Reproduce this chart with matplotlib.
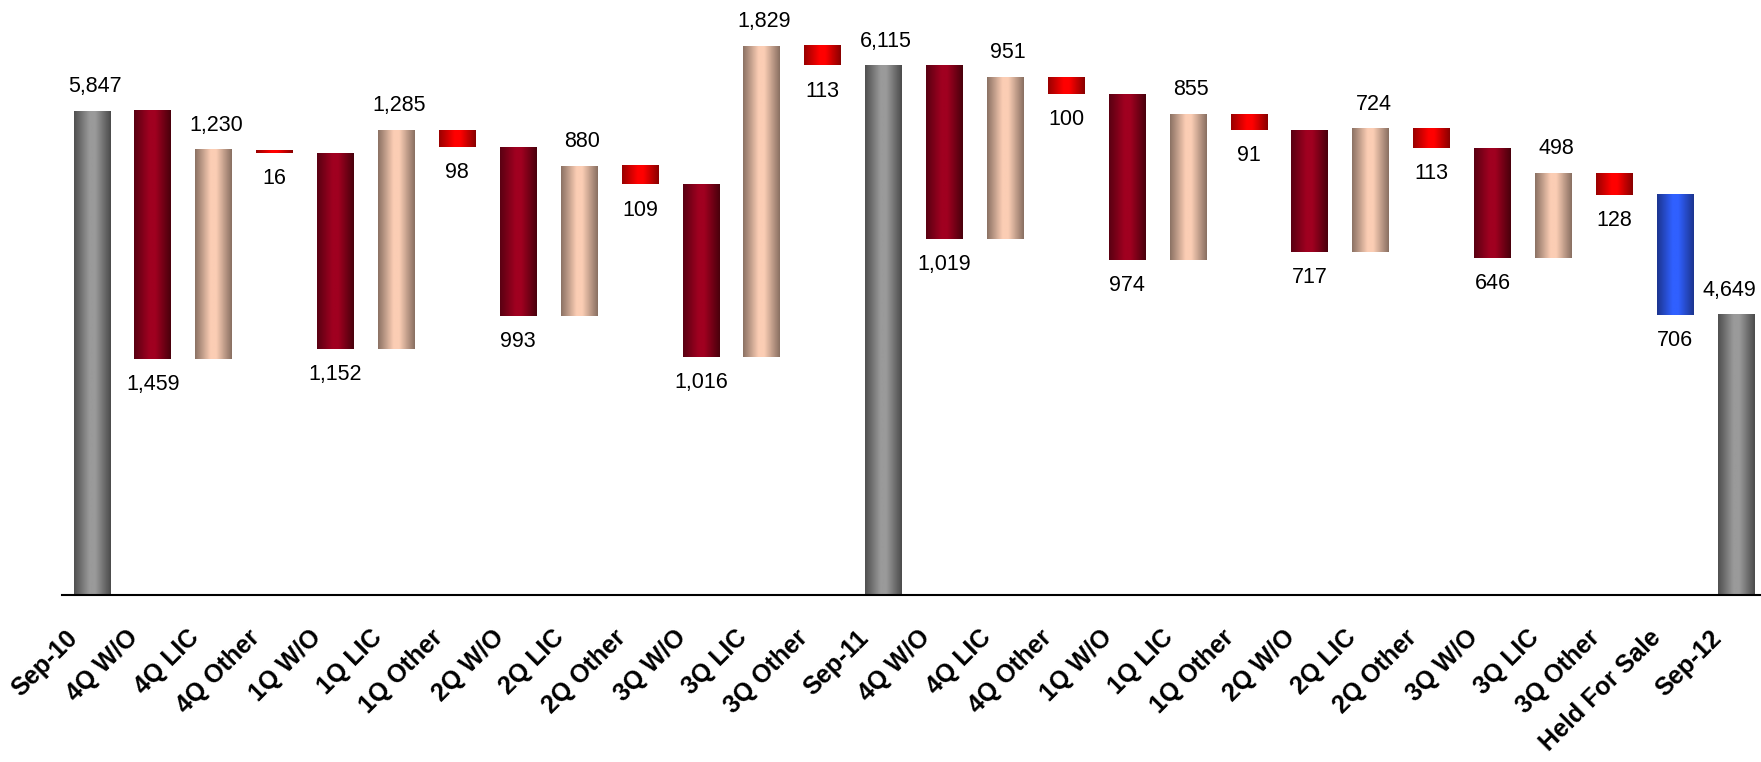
import numpy as np
import matplotlib
matplotlib.use("Agg")
import matplotlib.pyplot as plt
import matplotlib.transforms as mtransforms
from matplotlib.colors import LinearSegmentedColormap

plt.rcParams.update({
    "font.family": ["Liberation Sans", "DejaVu Sans"],
    "font.size": 15.5,
})

# data
labels = ["Sep-10", "4Q W/O", "4Q LIC", "4Q Other", "1Q W/O", "1Q LIC", "1Q Other",
          "2Q W/O", "2Q LIC", "2Q Other", "3Q W/O", "3Q LIC", "3Q Other", "Sep-11",
          "4Q W/O", "4Q LIC", "4Q Other", "1Q W/O", "1Q LIC", "1Q Other",
          "2Q W/O", "2Q LIC", "2Q Other", "3Q W/O", "3Q LIC", "3Q Other",
          "Held For Sale", "Sep-12"]
values = [5847, -1459, 1230, -16, -1152, 1285, -98, -993, 880, -109, -1016, 1829, -113, 6115,
          -1019, 951, -100, -974, 855, -91, -717, 724, -113, -646, 498, -128, -706, 4649]
kinds = ["total", "wo", "lic", "other", "wo", "lic", "other", "wo", "lic", "other", "wo", "lic", "other",
         "total", "wo", "lic", "other", "wo", "lic", "other", "wo", "lic", "other", "wo", "lic", "other",
         "hfs", "total"]

Y_MIN, Y_MAX = 3000, 6500

# edge -> centre -> edge shading for the cylinder look
shades = {
    "total": ["#505050", "#9a9a9a", "#9a9a9a", "#4c4c4c"],
    "wo": ["#5a0012", "#a00020", "#a00020", "#4a000c"],
    "lic": ["#8c7264", "#fbcdb4", "#fbcdb4", "#8a7062"],
    "other": ["#9a0000", "#ff0000", "#ff0000", "#8a0000"],
    "hfs": ["#1c3590", "#3060ff", "#3060ff", "#1c3590"],
}
stops = [0.0, 0.42, 0.58, 1.0]

# waterfall bottoms/heights (totals start at the axis floor)
bottoms, heights = [], []
level = 0
for v, k in zip(values, kinds):
    if k == "total":
        bottoms.append(Y_MIN)
        heights.append(v - Y_MIN)
        level = v
    else:
        new = level + v
        bottoms.append(min(level, new))
        heights.append(abs(v))
        level = new

fig = plt.figure(figsize=(17.61, 7.62), dpi=100)
ax = fig.add_axes([62 / 1761, 167 / 762, 1 - 62 / 1761, 1 - 167 / 762])

x = np.arange(len(labels))
w = 0.6
bars = ax.bar(x, heights, bottom=bottoms, width=w, color=[shades[k][1] for k in kinds],
              linewidth=0, zorder=2)

grad = np.linspace(0, 1, 64).reshape(1, -1)
for patch, k in zip(bars, kinds):
    cmap = LinearSegmentedColormap.from_list(k, list(zip(stops, shades[k])))
    x0, y0 = patch.get_x(), patch.get_y()
    ax.imshow(grad, cmap=cmap, aspect="auto", interpolation="bilinear",
              extent=(x0, x0 + patch.get_width(), y0, y0 + patch.get_height()), zorder=3)

# value labels
for i, (v, k) in enumerate(zip(values, kinds)):
    txt = f"{abs(v):,}"
    top = bottoms[i] + heights[i]
    if i == len(values) - 1:
        # last label is pushed left to stay inside the chart
        ax.annotate(txt, (x[i] + w / 2, top), xytext=(1.5, 13.5), textcoords="offset points",
                    ha="right", va="baseline")
    elif k == "total" or v > 0:
        ax.annotate(txt, (x[i], top), xytext=(2, 13.5), textcoords="offset points",
                    ha="center", va="baseline")
    else:
        ax.annotate(txt, (x[i], bottoms[i]), xytext=(0, -11), textcoords="offset points",
                    ha="center", va="top")

ax.set_xlim(-0.49, 27.41)
ax.set_ylim(Y_MIN, Y_MAX)
ax.set_xticks(x)
ax.set_xticklabels(labels, rotation=45, ha="right", fontsize=18, fontweight="bold")
ax.tick_params(axis="x", length=0, pad=22)
shift = mtransforms.ScaledTranslation(-7 / 72, 0, fig.dpi_scale_trans)
for lab in ax.get_xticklabels():
    lab.set_transform(lab.get_transform() + shift)
ax.set_yticks([])
for s in ["top", "right", "left"]:
    ax.spines[s].set_visible(False)
ax.spines["bottom"].set_linewidth(1.5)
ax.spines["bottom"].set_zorder(5)

fig.savefig("out.png", dpi=100)
